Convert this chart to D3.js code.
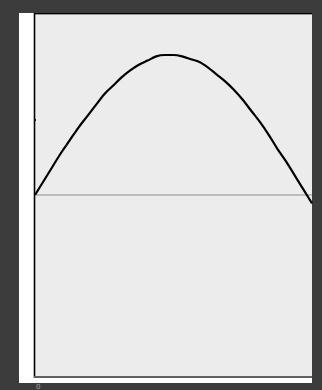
<!DOCTYPE html>
<html>
<head>
<meta charset="utf-8">
<script src="https://cdn.jsdelivr.net/npm/d3@7"></script>
<style>
  html, body { margin: 0; padding: 0; background: #3c3c3c; }
  svg { display: block; }
</style>
</head>
<body>
<svg id="chart" width="322" height="390"></svg>
<script>
// Sampled curve: x positions and the measured y values
const xValues = [0.0, 0.1, 0.2, 0.3, 0.4, 0.5, 0.6, 0.7, 0.8, 0.9, 1.0, 1.1, 1.2, 1.3, 1.4, 1.5, 1.6,
                 1.7, 1.8, 1.9, 2.0, 2.1, 2.2, 2.3, 2.4, 2.5, 2.6, 2.7, 2.8, 2.9, 3.0, 3.1, 3.2];
const yValues = [0.00, 0.10, 0.20, 0.30, 0.39, 0.48, 0.56, 0.64, 0.72, 0.78, 0.84, 0.89, 0.93, 0.96, 0.99, 1.00, 1.00,
                 0.99, 0.97, 0.95, 0.91, 0.86, 0.81, 0.75, 0.68, 0.60, 0.52, 0.43, 0.33, 0.24, 0.14, 0.04, -0.06];
const yTickValues = [0.54];
const xTickLabels = ["0"];

const svg = d3.select("#chart");

const panel = { left: 19, top: 13, right: 312, bottom: 383 };
const plot = { left: 34, top: 13, right: 312, bottom: 377 };

// white card behind the plot
svg.append("rect")
  .attr("x", panel.left).attr("y", panel.top)
  .attr("width", panel.right - panel.left).attr("height", panel.bottom - panel.top)
  .attr("fill", "#ffffff");

const x = d3.scaleLinear().domain([0, 3.2]).range([plot.left + 1, plot.right]);
const y = d3.scaleLinear().domain([-1.3, 1.3]).range([plot.bottom, plot.top]);

// plot background
svg.append("rect")
  .attr("x", plot.left).attr("y", plot.top)
  .attr("width", plot.right - plot.left).attr("height", plot.bottom - plot.top)
  .attr("fill", "#ececec");

// frame: dark top and left, grey bottom
svg.append("line").attr("x1", plot.left).attr("x2", plot.right).attr("y1", plot.top + 0.5).attr("y2", plot.top + 0.5)
  .attr("stroke", "#000").attr("stroke-width", 1);
svg.append("line").attr("x1", plot.left).attr("x2", plot.right).attr("y1", plot.top + 1.5).attr("y2", plot.top + 1.5)
  .attr("stroke", "#9a9a9a").attr("stroke-width", 1);
svg.append("line").attr("x1", plot.left + 0.5).attr("x2", plot.left + 0.5).attr("y1", plot.top).attr("y2", plot.bottom + 1)
  .attr("stroke", "#000").attr("stroke-width", 1.6);
svg.append("line").attr("x1", plot.left).attr("x2", plot.right).attr("y1", plot.bottom).attr("y2", plot.bottom)
  .attr("stroke", "#606060").attr("stroke-width", 2);

// zero reference line
svg.append("line")
  .attr("x1", x(0)).attr("x2", plot.right)
  .attr("y1", y(0)).attr("y2", y(0))
  .attr("stroke", "#bdbdbd").attr("stroke-width", 2);

// small tick on the left edge
const yAxis = d3.axisLeft(y).tickValues(yTickValues).tickSize(2).tickFormat("");
const yAxisG = svg.append("g").attr("transform", `translate(${plot.left + 2},0)`).call(yAxis);
yAxisG.select(".domain").remove();
yAxisG.selectAll(".tick line").attr("stroke", "#111").attr("stroke-width", 2);

// x label under the card
svg.append("g")
  .selectAll("text").data(xTickLabels).join("text")
  .attr("x", x(0) + 1).attr("y", 389)
  .attr("font-family", "DejaVu Sans, sans-serif").attr("font-size", 7)
  .attr("fill", "#a0a0a0")
  .text(d => d);

// the curve
const pts = xValues.map((v, i) => [v, yValues[i]]);
svg.append("path")
  .datum(pts)
  .attr("d", d3.line().x(d => x(d[0])).y(d => y(d[1])).curve(d3.curveMonotoneX))
  .attr("fill", "none")
  .attr("stroke", "#000")
  .attr("stroke-width", 2.2);
</script>
</body>
</html>
